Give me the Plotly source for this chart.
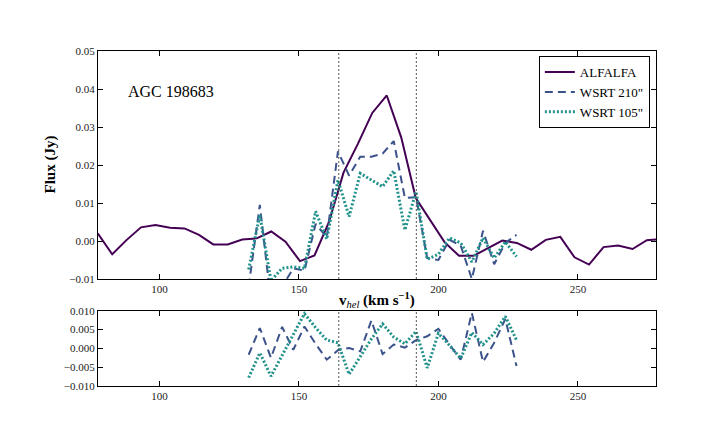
import plotly.graph_objects as go
from plotly.subplots import make_subplots

# ALFALFA spectrum (heliocentric velocity in km/s, flux in Jy)
v_alfalfa = [77.9, 83.1, 88.3, 93.4, 98.6, 103.8, 109.0, 114.2, 119.3, 124.5,
             129.7, 134.9, 140.1, 145.2, 150.4, 155.6, 160.8, 166.0, 171.1, 176.3,
             181.5, 186.7, 191.9, 197.0, 202.2, 207.4, 212.6, 217.8, 222.9, 228.1,
             233.3, 238.5, 243.7, 248.8, 254.0, 259.2, 264.4, 269.6, 274.7, 279.9]
flux_alfalfa = [0.0020, -0.0035, 0.0003, 0.0036, 0.0042, 0.0035, 0.0033, 0.0016, -0.0009, -0.0009,
                0.0004, 0.0007, 0.0025, -0.0002, -0.0053, -0.0038, 0.0050, 0.0180, 0.0255, 0.0337,
                0.0383, 0.0272, 0.0113, 0.0054, -0.0003, -0.0039, -0.0039, -0.0019, 0.0001, -0.0005,
                -0.0023, 0.0003, 0.0011, -0.0043, -0.0062, -0.0016, -0.0012, -0.0021, 0.0002, 0.0005]

# WSRT channels
v_wsrt = [132, 136, 140, 144, 148, 152, 156, 160, 164, 168, 172, 176, 180,
          184, 188, 192, 196, 200, 204, 208, 212, 216, 220, 224, 228]
flux_wsrt210 = [-0.0120, 0.0095, -0.0160, -0.0120, -0.0072, -0.0078, 0.0045, 0.0010, 0.0236,
                0.0172, 0.0222, 0.0222, 0.0230, 0.0263, 0.0113, 0.0115, -0.0045, -0.0050,
                0.0003, -0.0012, -0.0100, 0.0027, -0.0061, -0.0005, 0.0016]
flux_wsrt105 = [-0.0075, 0.0069, -0.0105, -0.0072, -0.0068, -0.0072, 0.0078, 0.0005, 0.0160,
                0.0064, 0.0178, 0.0161, 0.0143, 0.0185, 0.0029, 0.0130, -0.0048, -0.0035,
                0.0008, -0.0005, -0.0055, 0.0008, -0.0045, -0.0002, -0.0041]

# residuals (lower panel)
resid_wsrt210 = [-0.0017, 0.0054, -0.0025, 0.0057, -0.0004, 0.0058, 0.0012, -0.0030, -0.0005,
                 0.0001, -0.0008, 0.0074, -0.0015, 0.0010, 0.0002, 0.0022, 0.0032, 0.0052,
                 0.0010, -0.0030, 0.0094, -0.0036, 0.0015, 0.0078, -0.0047]
resid_wsrt105 = [-0.0078, -0.0012, -0.0074, -0.0020, 0.0038, 0.0092, 0.0055, 0.0022, 0.0015,
                 -0.0069, -0.0022, 0.0025, 0.0065, 0.0030, 0.0012, 0.0045, -0.0052, 0.0040,
                 0.0008, -0.0027, 0.0042, 0.0010, 0.0040, 0.0085, 0.0022]

# velocity limits of the line
v_edges = [164.3, 192.1]

c_alfalfa = '#440154'
c_210 = '#3b528b'
c_105 = '#21918c'
font = 'Liberation Serif'

fig = make_subplots(rows=2, cols=1)

fig.add_trace(go.Scatter(x=v_alfalfa, y=flux_alfalfa, mode='lines', name='ALFALFA',
                         line=dict(color=c_alfalfa, width=2)), row=1, col=1)
fig.add_trace(go.Scatter(x=v_wsrt, y=flux_wsrt210, mode='lines', name='WSRT 210"',
                         line=dict(color=c_210, width=2, dash='8px,5px')), row=1, col=1)
fig.add_trace(go.Scatter(x=v_wsrt, y=flux_wsrt105, mode='lines', name='WSRT 105"',
                         line=dict(color=c_105, width=3, dash='2px,2px')), row=1, col=1)

fig.add_trace(go.Scatter(x=v_wsrt, y=resid_wsrt210, mode='lines', showlegend=False,
                         line=dict(color=c_210, width=2, dash='8px,5px')), row=2, col=1)
fig.add_trace(go.Scatter(x=v_wsrt, y=resid_wsrt105, mode='lines', showlegend=False,
                         line=dict(color=c_105, width=3, dash='2px,2px')), row=2, col=1)

for v in v_edges:
    for r in (1, 2):
        fig.add_vline(x=v, line=dict(color='#555555', width=1, dash='2px,2px'), row=r, col=1)

fig.update_xaxes(range=[78, 278], tickvals=[100, 150, 200, 250], showgrid=False, zeroline=False,
                 showline=True, linecolor='black', linewidth=1, mirror='allticks',
                 ticks='inside', ticklen=5, tickcolor='black',
                 tickfont=dict(family=font, size=11, color='#222222'))
fig.update_yaxes(showgrid=False, zeroline=False, showline=True, linecolor='black', linewidth=1,
                 mirror='allticks', ticks='inside', ticklen=5, tickcolor='black',
                 tickfont=dict(family=font, size=11, color='#222222'))

fig.update_yaxes(range=[-0.01, 0.05], dtick=0.01, tickformat='.2f', domain=[0.3194, 1.0], row=1, col=1)
fig.update_yaxes(range=[-0.01, 0.01], dtick=0.005, tickformat='.3f', domain=[0.0, 0.2248], row=2, col=1)

fig.add_annotation(text='AGC 198683', xref='paper', yref='paper', x=0.05, y=0.88,
                   xanchor='left', yanchor='middle', showarrow=False,
                   font=dict(family=font, size=16, color='black'))
fig.add_annotation(text='<b>v</b><sub><i>hel</i></sub><b> (km s</b><sup><b>−1</b></sup><b>)</b>',
                   xref='paper', yref='paper', x=0.5, y=0.256, xanchor='center', yanchor='middle',
                   showarrow=False, font=dict(family=font, size=15, color='black'))
fig.add_annotation(text='<b>Flux (Jy)</b>', xref='paper', yref='paper', x=-0.085, y=0.66,
                   xanchor='center', yanchor='middle', textangle=-90, showarrow=False,
                   font=dict(family=font, size=15, color='black'))

fig.update_layout(
    width=720, height=432,
    margin=dict(l=90, r=72, t=43, b=54),
    plot_bgcolor='white', paper_bgcolor='white',
    legend=dict(x=0.989, y=0.985, xanchor='right', yanchor='top',
                bordercolor='black', borderwidth=1, bgcolor='white',
                font=dict(family=font, size=13, color='black'),
                itemwidth=30, tracegroupgap=0),
)

fig.write_html('out.html')
